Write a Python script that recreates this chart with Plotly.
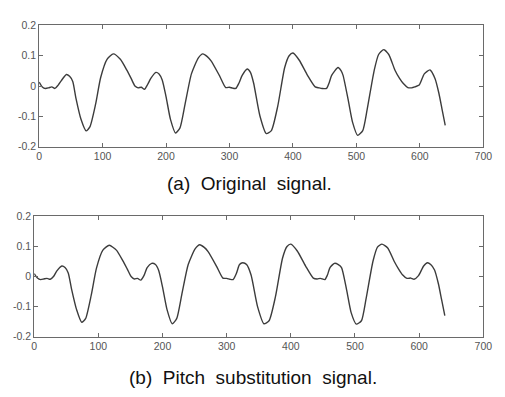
import plotly.graph_objects as go

# ---- data ----
orig_x = [0, 5, 10, 15, 20, 25, 30, 35, 43, 48, 53, 58, 66, 74, 80, 89, 97, 107, 117, 128,
          138, 145, 151, 156, 161, 166, 171, 176, 184, 189, 194, 200, 207, 215, 222, 230, 240,
          251, 258, 265, 271, 284, 294, 300, 305, 310, 315, 320, 328, 333, 338, 348, 358, 366,
          376, 387, 394, 400, 410, 423, 435, 441, 446, 453, 457, 461, 471, 476, 479, 487, 494,
          502, 510, 517, 528, 535, 543, 551, 561, 568, 574, 581, 587, 592, 599, 607, 616, 624,
          630, 635, 640]
orig_y = [0.013, -0.003, -0.008, -0.006, -0.003, -0.008, 0.003, 0.018, 0.038, 0.032, 0.015,
          -0.04, -0.11, -0.148, -0.135, -0.06, 0.028, 0.088, 0.106, 0.088, 0.053, 0.025, 0.0,
          -0.006, -0.004, -0.011, 0.005, 0.025, 0.045, 0.04, 0.02, -0.035, -0.11, -0.155,
          -0.138, -0.06, 0.04, 0.093, 0.106, 0.097, 0.083, 0.035, -0.005, -0.004, -0.007,
          -0.008, 0.01, 0.035, 0.056, 0.045, 0.01, -0.099, -0.157, -0.147, -0.067, 0.061,
          0.1, 0.109, 0.085, 0.035, -0.003, -0.006, -0.008, -0.008, 0.01, 0.035, 0.061, 0.05,
          0.035, -0.045, -0.12, -0.163, -0.147, -0.077, 0.051, 0.104, 0.12, 0.104, 0.051,
          0.025, 0.008, -0.005, -0.006, -0.003, 0.003, 0.04, 0.053, 0.024, -0.024, -0.077,
          -0.13]

pitch_x = [0, 5, 10, 15, 20, 25, 30, 35, 43, 48, 53, 58, 66, 74, 80, 89, 97, 107, 117, 128,
           138, 145, 151, 156, 161, 166, 171, 176, 183, 189, 194, 200, 207, 215, 222, 230, 240,
           251, 258, 265, 271, 284, 294, 300, 305, 310, 315, 320, 325, 331, 338, 348, 358, 366,
           376, 387, 394, 400, 410, 423, 435, 441, 446, 453, 457, 461, 468, 474, 479, 487, 494,
           502, 510, 517, 528, 535, 542, 551, 561, 568, 574, 581, 587, 592, 599, 607, 613, 618,
           624, 630, 635, 640]
pitch_y = [0.01, -0.005, -0.01, -0.008, -0.006, -0.009, 0.0, 0.018, 0.035, 0.03, 0.012,
           -0.04, -0.11, -0.152, -0.14, -0.06, 0.028, 0.088, 0.104, 0.088, 0.053, 0.025, 0.0,
           -0.008, -0.006, -0.012, 0.003, 0.03, 0.044, 0.04, 0.02, -0.035, -0.11, -0.157,
           -0.14, -0.06, 0.04, 0.093, 0.106, 0.097, 0.083, 0.035, -0.005, -0.006, -0.009,
           -0.01, 0.01, 0.04, 0.046, 0.04, 0.005, -0.099, -0.157, -0.147, -0.067, 0.061, 0.1,
           0.108, 0.085, 0.035, -0.005, -0.008, -0.006, -0.01, 0.005, 0.03, 0.044, 0.04, 0.03,
           -0.045, -0.12, -0.158, -0.147, -0.077, 0.051, 0.098, 0.108, 0.095, 0.051, 0.025,
           0.006, -0.006, -0.005, -0.009, 0.003, 0.035, 0.046, 0.04, 0.022, -0.024, -0.077,
           -0.13]

x_ticks = [0, 100, 200, 300, 400, 500, 600, 700]
y_ticks = [-0.2, -0.1, 0, 0.1, 0.2]
y_tick_text = ["-0.2", "-0.1", "0", "0.1", "0.2"]
captions = ["(a)  Original  signal.", "(b)  Pitch  substitution  signal."]

W, H = 505, 397
LINE = "#3c3c3c"
AX = "#6a6a6a"

fig = go.Figure()
fig.add_trace(go.Scatter(x=orig_x, y=orig_y, mode="lines", line=dict(color=LINE, width=1.4, shape="spline", smoothing=0.6),
                         xaxis="x", yaxis="y", showlegend=False, hoverinfo="skip"))
fig.add_trace(go.Scatter(x=pitch_x, y=pitch_y, mode="lines", line=dict(color=LINE, width=1.4, shape="spline", smoothing=0.6),
                         xaxis="x2", yaxis="y2", showlegend=False, hoverinfo="skip"))

def px_dom(a, b, total):
    return [a / total, b / total]

tf = dict(family="Liberation Sans, Arial", size=10.5, color="#555")
common_x = dict(range=[0, 700], tickvals=x_ticks, ticks="inside", ticklen=4, tickcolor=AX,
                showline=True, linecolor=AX, linewidth=1, mirror="ticks", showgrid=False, zeroline=False,
                tickfont=tf, fixedrange=True)
common_y = dict(range=[-0.2, 0.2], tickvals=y_ticks, ticktext=y_tick_text, ticks="inside", ticklen=4,
                tickcolor=AX, showline=True, linecolor=AX, linewidth=1, mirror="ticks", showgrid=False,
                zeroline=False, tickfont=tf, fixedrange=True)

fig.update_layout(
    width=W, height=H, margin=dict(l=0, r=0, t=0, b=0),
    paper_bgcolor="white", plot_bgcolor="white",
    xaxis=dict(domain=px_dom(37, 492, W), anchor="y", **common_x),
    yaxis=dict(domain=[1 - 145 / H, 1 - 20 / H], anchor="x", **common_y),
    xaxis2=dict(domain=px_dom(32, 492, W), anchor="y2", **common_x),
    yaxis2=dict(domain=[1 - 341 / H, 1 - 217 / H], anchor="x2", **common_y),
)

cap_font = dict(family="Liberation Sans, Arial", size=19, color="#111")
fig.add_annotation(text=captions[0], xref="paper", yref="paper", x=252 / W, y=1 - 183 / H,
                   showarrow=False, xanchor="center", yanchor="middle", font=cap_font)
fig.add_annotation(text=captions[1], xref="paper", yref="paper", x=256 / W, y=1 - 383 / H,
                   showarrow=False, xanchor="center", yanchor="middle", font=cap_font)

fig.write_html("out.html")
